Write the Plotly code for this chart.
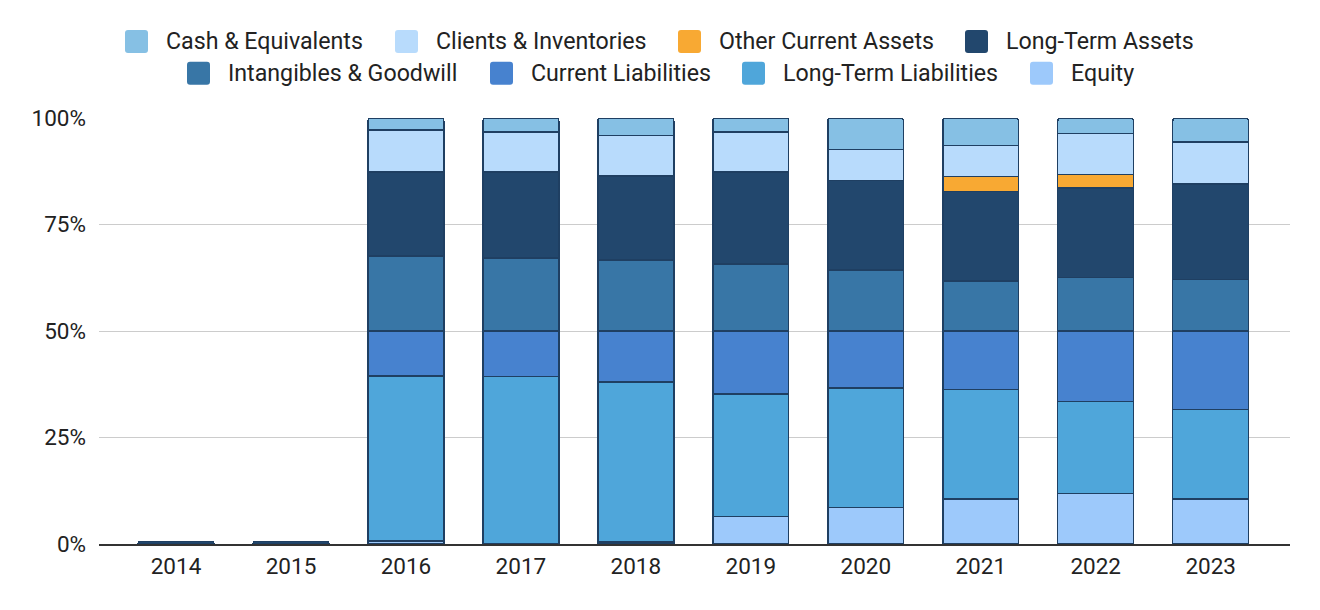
import plotly.graph_objects as go

years = ["2014", "2015", "2016", "2017", "2018", "2019", "2020", "2021", "2022", "2023"]

# stacked from bottom to top (percent of total)
equity = [0, 0, 0.7, 0, 0.5, 6.4, 8.6, 10.6, 11.8, 10.6]
long_term_liabilities = [0, 0, 38.7, 39.3, 37.5, 28.8, 28.0, 25.6, 21.6, 21.0]
current_liabilities = [0, 0, 10.6, 10.7, 12.0, 14.8, 13.4, 13.8, 16.6, 18.4]
intangibles_goodwill = [0, 0, 17.6, 17.1, 16.7, 15.7, 14.3, 11.7, 12.5, 12.1]
long_term_assets = [0.6, 0.6, 19.7, 20.2, 19.7, 21.6, 21.1, 21.1, 21.1, 22.4]
other_current_assets = [0, 0, 0, 0, 0, 0, 0, 3.4, 3.1, 0]
clients_inventories = [0, 0, 9.9, 9.4, 9.5, 9.4, 7.2, 7.4, 9.7, 9.9]
cash_equivalents = [0, 0, 2.8, 3.3, 4.1, 3.3, 7.4, 6.4, 3.6, 5.6]

y_ticks = [0, 25, 50, 75, 100]
y_tick_labels = ["0%", "25%", "50%", "75%", "100%"]

series = [
    ("Equity", equity, "#9dc9fb"),
    ("Long-Term Liabilities", long_term_liabilities, "#4fa6da"),
    ("Current Liabilities", current_liabilities, "#4782cf"),
    ("Intangibles & Goodwill", intangibles_goodwill, "#3876a6"),
    ("Long-Term Assets", long_term_assets, "#22476d"),
    ("Other Current Assets", other_current_assets, "#f8a933"),
    ("Clients & Inventories", clients_inventories, "#b8dbfc"),
    ("Cash & Equivalents", cash_equivalents, "#86c0e4"),
]
colors = {name: c for name, _, c in series}

FONT = "Roboto"
OFF = 8  # page body margin
W, H = 1312, 602
L, R, T, B = 91, 30, 110, 66

fig = go.Figure()
for name, vals, col in series:
    fig.add_trace(go.Bar(
        x=years, y=vals, name=name,
        marker=dict(color=col, line=dict(color="#1f3f62", width=1.4)),
        showlegend=False,
    ))

# custom two-row centered legend (page pixel positions)
legend_rows = [
    [("Cash & Equivalents", 125), ("Clients & Inventories", 395),
     ("Other Current Assets", 678), ("Long-Term Assets", 965)],
    [("Intangibles & Goodwill", 187), ("Current Liabilities", 490),
     ("Long-Term Liabilities", 742), ("Equity", 1030)],
]
row_y = [41.5, 73.3]
pw, ph = W - L - R, H - T - B


def px(x):
    return (x - OFF - L) / pw


def py(y):
    return (H - B - (y - OFF)) / ph


shapes = []
annotations = []
sw = 23
rr = 3
for row, yc in zip(legend_rows, row_y):
    for name, x0 in row:
        x1 = x0 + sw
        y0, y1 = yc - sw / 2, yc + sw / 2
        pts = (
            f"M {px(x0 + rr)},{py(y0)} L {px(x1 - rr)},{py(y0)} "
            f"Q {px(x1)},{py(y0)} {px(x1)},{py(y0 + rr)} "
            f"L {px(x1)},{py(y1 - rr)} Q {px(x1)},{py(y1)} {px(x1 - rr)},{py(y1)} "
            f"L {px(x0 + rr)},{py(y1)} Q {px(x0)},{py(y1)} {px(x0)},{py(y1 - rr)} "
            f"L {px(x0)},{py(y0 + rr)} Q {px(x0)},{py(y0)} {px(x0 + rr)},{py(y0)} Z"
        )
        shapes.append(dict(type="path", path=pts, xref="paper", yref="paper",
                           fillcolor=colors[name], line=dict(width=0), layer="above"))
        annotations.append(dict(text=name, x=px(x1 + 16), y=py(yc), xref="paper", yref="paper",
                                xanchor="left", yanchor="middle", showarrow=False,
                                font=dict(family=FONT, size=23.2, color="#222222")))

fig.update_layout(
    width=W, height=H,
    barmode="stack",
    bargap=0.34,
    barcornerradius=3,
    plot_bgcolor="white",
    paper_bgcolor="white",
    margin=dict(l=L, r=R, t=T, b=B, pad=0),
    font=dict(family=FONT, size=22.5, color="#222222"),
    shapes=shapes,
    annotations=annotations,
    xaxis=dict(
        type="category",
        range=[-0.67, 9.69],
        showgrid=False,
        showline=True, linecolor="#333333", linewidth=1.5,
        ticks="", ticklabelstandoff=1,
        tickfont=dict(family=FONT, size=22.5, color="#222222"),
        fixedrange=True,
    ),
    yaxis=dict(
        range=[0, 100],
        tickvals=y_ticks, ticktext=y_tick_labels,
        showgrid=True, gridcolor="#cccccc", gridwidth=1,
        zeroline=False,
        ticks="", ticklabelstandoff=12,
        tickfont=dict(family=FONT, size=22.5, color="#222222"),
        fixedrange=True,
    ),
)

fig.write_html("out.html")
